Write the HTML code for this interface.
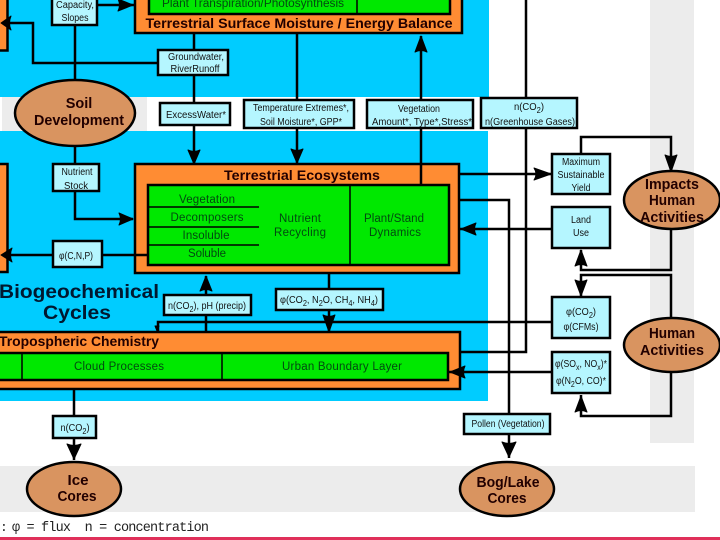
<!DOCTYPE html>
<html><head><meta charset="utf-8">
<style>
html,body{margin:0;padding:0;background:#fff;width:720px;height:540px;overflow:hidden}
svg{display:block;filter:blur(0.35px)}
text{font-family:"Liberation Sans",sans-serif;fill:#111;text-anchor:middle}
.t{font-size:10px}
.g{font-size:11.5px;fill:#024a10}
.b{font-weight:bold;font-size:13.5px;fill:#200}
.e{font-size:14.5px;fill:#200;font-weight:bold}
.box{fill:#b5f6ff;stroke:#000;stroke-width:2.5}
.or{fill:#ff8c33;stroke:#000;stroke-width:2.5}
.gr{fill:#00e800;stroke:#000;stroke-width:2.5}
.el{fill:#d99460;stroke:#000;stroke-width:2.5}
.l{fill:none;stroke:#000;stroke-width:2.5}
.th{fill:none;stroke:#000;stroke-width:1.5}
.ah path{stroke:#000;stroke-width:1;stroke-linejoin:round}
</style></head><body>
<svg width="720" height="540" viewBox="0 0 720 540" xmlns="http://www.w3.org/2000/svg">
<rect x="0" y="0" width="720" height="540" fill="#fff"/>
<rect x="650" y="0" width="44" height="443" fill="#ececec"/>
<rect x="0" y="466" width="695" height="46" fill="#ececec"/>
<rect x="0" y="0" width="489" height="97" fill="#00ccff"/>
<rect x="0" y="131" width="488" height="270" fill="#00ccff"/>
<rect x="2" y="97" width="145" height="34" fill="#ececec"/>
<rect x="0" y="537" width="720" height="3" fill="#e0305a"/>

<!-- orange blocks -->
<rect x="-5" y="-5" width="12.5" height="55.5" class="or"/>
<rect x="-5" y="164" width="12.5" height="108" class="or"/>
<rect x="135" y="-5" width="327" height="38" class="or"/>
<rect x="149" y="-5" width="301" height="19" class="gr"/>
<line x1="357" y1="0" x2="357" y2="14" stroke="#000" stroke-width="1.5"/>
<rect x="135" y="164" width="324" height="109" class="or"/>
<rect x="148" y="185" width="301" height="80" class="gr"/>
<path d="M148 207H259M148 227H259M148 245H259" class="th"/>
<line x1="350" y1="185" x2="350" y2="265" stroke="#000" stroke-width="1.5"/>
<rect x="-5" y="332" width="465" height="57" class="or"/>
<rect x="-5" y="353" width="453" height="27" class="gr"/>
<path d="M22 353V380M222 353V380" stroke="#000" stroke-width="1.5" fill="none"/>

<!-- connectors -->
<path class="l" d="M97 5H135"/>
<path class="l" d="M158 63H33V23H8"/>
<path class="l" d="M75 25V82"/>
<path class="l" d="M194 33V163"/>
<path class="l" d="M297 33V163"/>
<path class="l" d="M421 36V185"/>
<path class="l" d="M526 0V352H460"/>
<path class="l" d="M75 144V164M75 191V219H133"/>
<path class="l" d="M8 255H148"/>
<path class="l" d="M206 276V332"/>
<path class="l" d="M329 273V332"/>
<path class="l" d="M552 322H158V331"/>
<path class="l" d="M459 200H509V414"/>
<path class="l" d="M459 174H552"/>
<path class="l" d="M581 154V137H671V172"/>
<path class="l" d="M552 229H460"/>
<path class="l" d="M671 229V270H581V250"/>
<path class="l" d="M671 318V275H581V296"/>
<path class="l" d="M552 372H449"/>
<path class="l" d="M671 373V416H581V395"/>
<path class="l" d="M74 389V460"/>
<path class="l" d="M509 434V458"/>

<!-- arrowheads -->
<g fill="#000" class="ah">
<path d="M133 5L118 -1Q121 5 118 11Z"/>
<path d="M1 23L11 16Q8 23 11 30Z"/>
<path d="M194 164L188 150Q194 153 200 150Z"/>
<path d="M297 163L291 149Q297 152 303 149Z"/>
<path d="M421 36L415 52Q421 49 427 52Z"/>
<path d="M133 219L119 213Q122 219 119 225Z"/>
<path d="M1 255L12 248Q9 255 12 262Z"/>
<path d="M206 276L200 291Q206 288 212 291Z"/>
<path d="M329 332L323 315Q329 318 335 315Z"/>
<path d="M157 331L155 326H159Z"/>
<path d="M551 174L534 168Q538 174 534 180Z"/>
<path d="M671 172L665 155Q671 158 677 155Z"/>
<path d="M461 229L476 223Q473 229 476 235Z"/>
<path d="M581 250L575 266Q581 263 587 266Z"/>
<path d="M581 296L575 280Q581 283 587 280Z"/>
<path d="M450 372L465 366Q462 372 465 378Z"/>
<path d="M581 396L575 412Q581 409 587 412Z"/>
<path d="M74 459L67 444Q74 447 81 444Z"/>
<path d="M509 457L502 442Q509 445 516 442Z"/>
</g>

<!-- small boxes -->
<rect x="52" y="-5" width="45" height="30" class="box"/>
<rect x="158" y="50" width="70" height="25" class="box"/>
<rect x="160" y="103" width="70" height="22" class="box"/>
<rect x="244" y="100" width="110" height="28" class="box"/>
<rect x="367" y="100" width="106" height="28" class="box"/>
<rect x="481" y="98" width="96" height="30" class="box"/>
<rect x="53" y="164" width="46" height="27" class="box"/>
<rect x="53" y="241" width="49" height="26" class="box"/>
<rect x="164" y="295" width="87" height="20" class="box"/>
<rect x="276" y="289" width="107" height="21" class="box"/>
<rect x="552" y="154" width="58" height="40" class="box"/>
<rect x="552" y="207" width="58" height="41" class="box"/>
<rect x="552" y="297" width="58" height="41" class="box"/>
<rect x="552" y="352" width="58" height="41" class="box"/>
<rect x="53" y="416" width="43" height="22" class="box"/>
<rect x="464" y="414" width="86" height="20" class="box"/>

<!-- ellipses -->
<ellipse cx="75" cy="113" rx="60" ry="33" class="el"/>
<ellipse cx="672" cy="200" rx="48" ry="29" class="el"/>
<ellipse cx="672" cy="345" rx="48" ry="27" class="el"/>
<ellipse cx="74" cy="489" rx="47" ry="27" class="el"/>
<ellipse cx="507" cy="489" rx="47" ry="27" class="el"/>

<!-- text -->
<text x="253" y="7" class="g" textLength="182" lengthAdjust="spacingAndGlyphs">Plant Transpiration/Photosynthesis</text>
<text x="299" y="28" class="b" textLength="307" lengthAdjust="spacingAndGlyphs">Terrestrial Surface Moisture / Energy Balance</text>
<text x="302" y="180" class="b" textLength="156" lengthAdjust="spacingAndGlyphs">Terrestrial Ecosystems</text>
<text x="79" y="298" style="font-size:19px;font-weight:bold;fill:#001830" textLength="160" lengthAdjust="spacingAndGlyphs">Biogeochemical</text>
<text x="77" y="319" style="font-size:19px;font-weight:bold;fill:#001830" textLength="68" lengthAdjust="spacingAndGlyphs">Cycles</text>
<text x="79" y="346" class="b" textLength="160" lengthAdjust="spacingAndGlyphs">Tropospheric Chemistry</text>

<text x="75" y="8" class="t" textLength="38" lengthAdjust="spacingAndGlyphs">Capacity,</text>
<text x="75" y="21" class="t" textLength="27" lengthAdjust="spacingAndGlyphs">Slopes</text>
<text x="196" y="60" class="t" textLength="56" lengthAdjust="spacingAndGlyphs">Groundwater,</text>
<text x="195" y="72" class="t" textLength="49" lengthAdjust="spacingAndGlyphs">RiverRunoff</text>
<text x="196" y="118" class="t" textLength="60" lengthAdjust="spacingAndGlyphs">ExcessWater*</text>
<text x="301" y="111" class="t" textLength="96" lengthAdjust="spacingAndGlyphs">Temperature Extremes*,</text>
<text x="301" y="125" class="t" textLength="82" lengthAdjust="spacingAndGlyphs">Soil Moisture*, GPP*</text>
<text x="419" y="112" class="t" textLength="42" lengthAdjust="spacingAndGlyphs">Vegetation</text>
<text x="422" y="125" class="t" textLength="100" lengthAdjust="spacingAndGlyphs">Amount*, Type*,Stress*</text>
<text x="529" y="110" class="t" textLength="30" lengthAdjust="spacingAndGlyphs">n(CO<tspan dy="3" font-size="8">2</tspan><tspan dy="-3">)</tspan></text>
<text x="530" y="125" class="t" textLength="90" lengthAdjust="spacingAndGlyphs">n(Greenhouse Gases)</text>
<text x="77" y="175" class="t" textLength="31" lengthAdjust="spacingAndGlyphs">Nutrient</text>
<text x="76" y="189" class="t" textLength="24" lengthAdjust="spacingAndGlyphs">Stock</text>
<text x="76" y="259" class="t" textLength="34" lengthAdjust="spacingAndGlyphs">φ(C,N,P)</text>
<text x="207" y="309" class="t" textLength="78" lengthAdjust="spacingAndGlyphs">n(CO<tspan dy="3" font-size="8">2</tspan><tspan dy="-3">), pH (precip)</tspan></text>
<text x="329" y="303" class="t" textLength="98" lengthAdjust="spacingAndGlyphs">φ(CO<tspan dy="3" font-size="8">2</tspan><tspan dy="-3">, N</tspan><tspan dy="3" font-size="8">2</tspan><tspan dy="-3">O, CH</tspan><tspan dy="3" font-size="8">4</tspan><tspan dy="-3">, NH</tspan><tspan dy="3" font-size="8">4</tspan><tspan dy="-3">)</tspan></text>
<text x="581" y="165" class="t" textLength="38" lengthAdjust="spacingAndGlyphs">Maximum</text>
<text x="581" y="178" class="t" textLength="47" lengthAdjust="spacingAndGlyphs">Sustainable</text>
<text x="581" y="191" class="t" textLength="19" lengthAdjust="spacingAndGlyphs">Yield</text>
<text x="581" y="223" class="t" textLength="20" lengthAdjust="spacingAndGlyphs">Land</text>
<text x="581" y="236" class="t" textLength="16" lengthAdjust="spacingAndGlyphs">Use</text>
<text x="581" y="315" class="t" textLength="30" lengthAdjust="spacingAndGlyphs">φ(CO<tspan dy="3" font-size="8">2</tspan><tspan dy="-3">)</tspan></text>
<text x="581" y="330" class="t" textLength="35" lengthAdjust="spacingAndGlyphs">φ(CFMs)</text>
<text x="581" y="367" class="t" textLength="52" lengthAdjust="spacingAndGlyphs">φ(SO<tspan dy="3" font-size="8">x</tspan><tspan dy="-3">, NO</tspan><tspan dy="3" font-size="8">x</tspan><tspan dy="-3">)*</tspan></text>
<text x="581" y="384" class="t" textLength="50" lengthAdjust="spacingAndGlyphs">φ(N<tspan dy="3" font-size="8">2</tspan><tspan dy="-3">O, CO)*</tspan></text>
<text x="75" y="431" class="t" textLength="29" lengthAdjust="spacingAndGlyphs">n(CO<tspan dy="3" font-size="8">2</tspan><tspan dy="-3">)</tspan></text>
<text x="508" y="427" class="t" textLength="73" lengthAdjust="spacingAndGlyphs">Pollen (Vegetation)</text>

<text x="207" y="203" class="g" textLength="56" lengthAdjust="spacing">Vegetation</text>
<text x="207" y="221" class="g" textLength="73" lengthAdjust="spacing">Decomposers</text>
<text x="206" y="239" class="g" textLength="47" lengthAdjust="spacing">Insoluble</text>
<text x="207" y="257" class="g" textLength="38" lengthAdjust="spacing">Soluble</text>
<text x="300" y="222" class="g" textLength="42" lengthAdjust="spacing">Nutrient</text>
<text x="300" y="236" class="g" textLength="52" lengthAdjust="spacing">Recycling</text>
<text x="394" y="222" class="g" textLength="60" lengthAdjust="spacing">Plant/Stand</text>
<text x="395" y="236" class="g" textLength="52" lengthAdjust="spacing">Dynamics</text>
<text x="119" y="370" class="g" textLength="90" lengthAdjust="spacing">Cloud Processes</text>
<text x="342" y="370" class="g" textLength="120" lengthAdjust="spacing">Urban Boundary Layer</text>

<text x="79" y="108" class="e">Soil</text>
<text x="79" y="125" class="e" textLength="90" lengthAdjust="spacingAndGlyphs">Development</text>
<text x="672" y="189" class="e" textLength="54" lengthAdjust="spacingAndGlyphs">Impacts</text>
<text x="672" y="205" class="e" textLength="46" lengthAdjust="spacingAndGlyphs">Human</text>
<text x="672" y="222" class="e" textLength="64" lengthAdjust="spacingAndGlyphs">Activities</text>
<text x="672" y="338" class="e" textLength="46" lengthAdjust="spacingAndGlyphs">Human</text>
<text x="672" y="355" class="e" textLength="64" lengthAdjust="spacingAndGlyphs">Activities</text>
<text x="78" y="485" class="e" textLength="21" lengthAdjust="spacingAndGlyphs">Ice</text>
<text x="77" y="501" class="e" textLength="39" lengthAdjust="spacingAndGlyphs">Cores</text>
<text x="508" y="487" class="e" textLength="63" lengthAdjust="spacingAndGlyphs">Bog/Lake</text>
<text x="507" y="503" class="e" textLength="39" lengthAdjust="spacingAndGlyphs">Cores</text>

<text x="0" y="531" style="font-family:'Liberation Mono',monospace;font-size:13px;text-anchor:start;fill:#222">:</text>
<text x="12" y="531" style="font-family:'Liberation Mono',monospace;font-size:13.5px;text-anchor:start;fill:#222" textLength="197" lengthAdjust="spacing" xml:space="preserve">φ = flux  n = concentration</text>
</svg>
</body></html>
